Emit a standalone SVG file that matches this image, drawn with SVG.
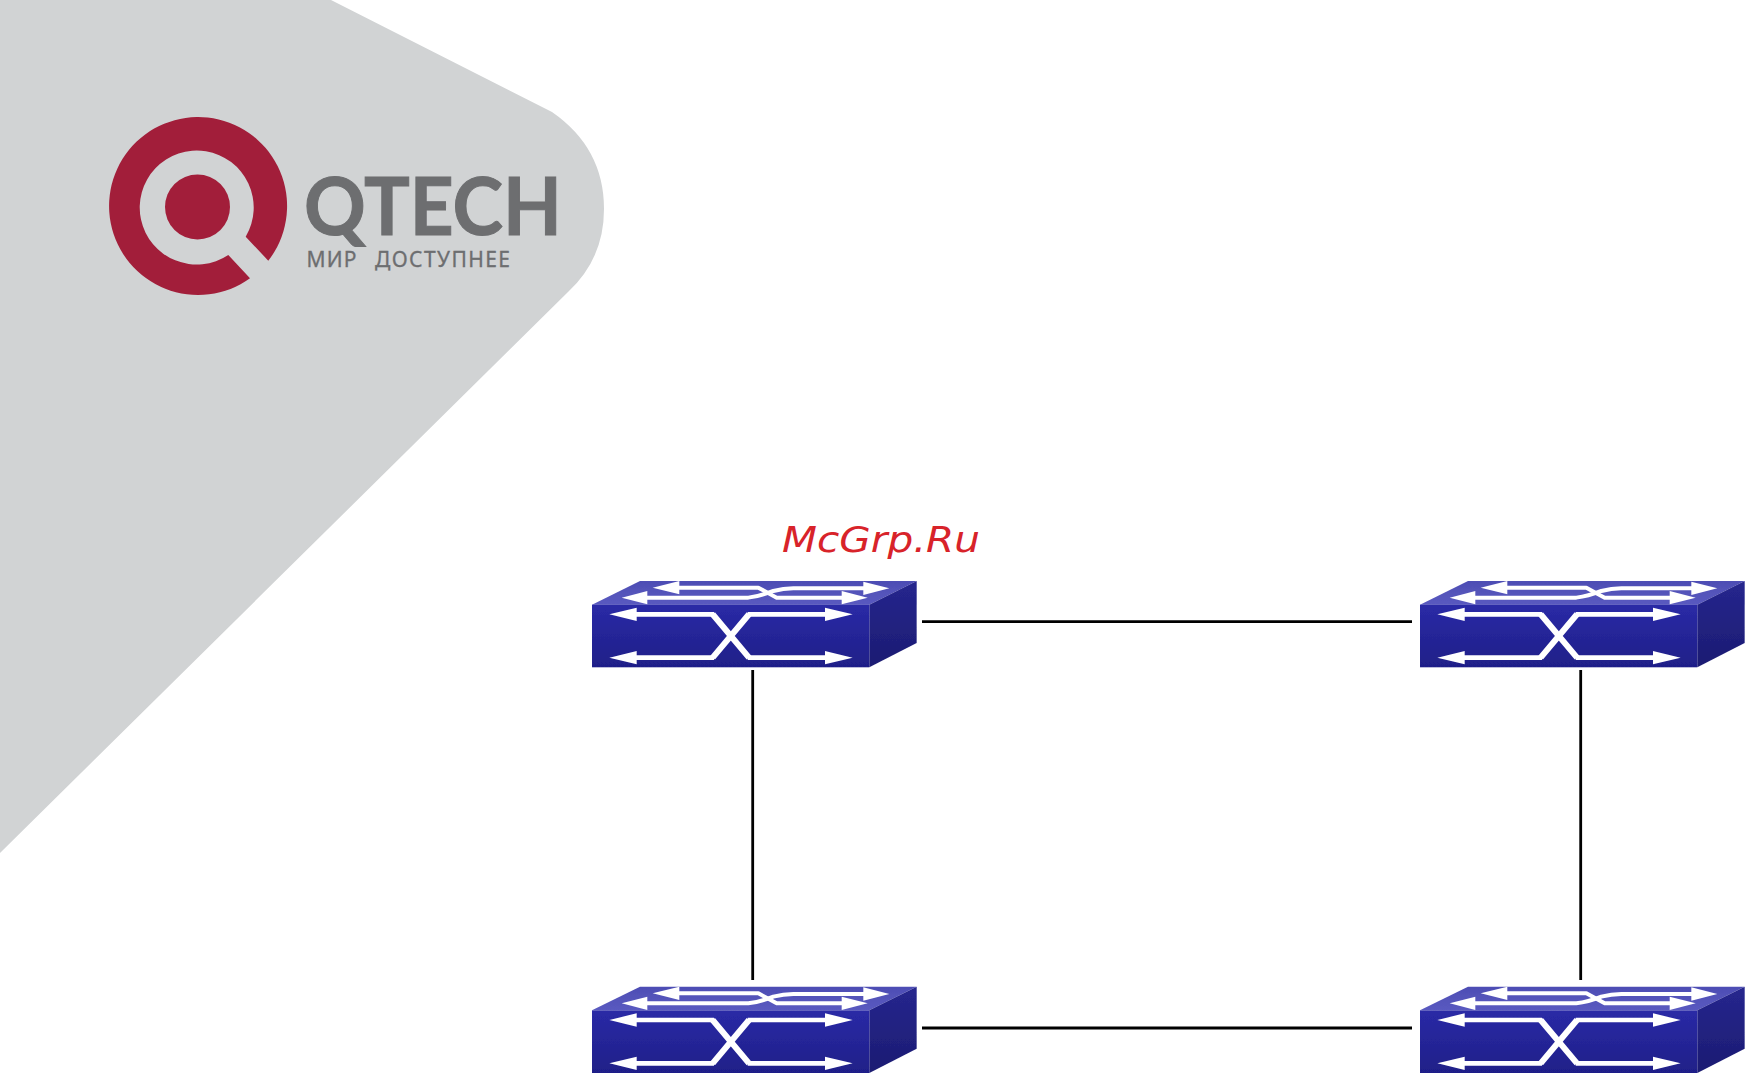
<svg xmlns="http://www.w3.org/2000/svg" xmlns:xlink="http://www.w3.org/1999/xlink" width="1751" height="1077" viewBox="0 0 1751 1077">
<style>
.wire{stroke:#000;stroke-width:2.8;fill:none}
.fl{fill:none;stroke:#fff;stroke-width:14;stroke-linejoin:round}
.dg{fill:none;stroke:#fff;stroke-width:18;stroke-linejoin:round}
.tl{fill:none;stroke:#fff;stroke-width:12;stroke-linejoin:round}
.ah{fill:#fff}
.logo{fill:#a21e3a}
.lt{fill:#6d6e70}
</style>
<defs>
<filter id="soft" x="-5%" y="-5%" width="110%" height="110%"><feGaussianBlur stdDeviation="1.4"/></filter>
<linearGradient id="front" x1="0" y1="0" x2="0" y2="1"><stop offset="0" stop-color="#2a2aa6"/><stop offset="1" stop-color="#1f1f88"/></linearGradient>
<linearGradient id="side" x1="0" y1="0" x2="0" y2="1"><stop offset="0" stop-color="#26268e"/><stop offset="1" stop-color="#1c1c72"/></linearGradient>
<linearGradient id="top" x1="0" y1="0" x2="0" y2="1"><stop offset="0" stop-color="#4d4db4"/><stop offset="1" stop-color="#5a5ac0"/></linearGradient>
<g id="sw" transform="scale(.33333)" filter="url(#soft)">
<polygon points="66,133 210,62 1040,62 898,133" fill="url(#top)"/>
<polygon points="898,133 1040,62 1040,248 898,321" fill="url(#side)"/>
<rect x="66" y="133" width="832" height="188" fill="url(#front)"/>
<path class="tl" d="M320,82H565L620,112H825"/>
<path class="tl" d="M225,112H535Q570,108 610,92Q640,84 670,84H890"/>
<polygon class="ah" points="248,82 328,62 328,102"/>
<polygon class="ah" points="155,112 232,92 232,132"/>
<polygon class="ah" points="958,84 880,64 880,104"/>
<polygon class="ah" points="893,112 815,92 815,132"/>
<path class="fl" d="M190,162H432M533,292H775M190,292H432M533,162H775"/>
<path class="dg" d="M428,162L537,292M428,292L537,162"/>
<polygon class="ah" points="118,162 200,142 200,182"/>
<polygon class="ah" points="118,292 200,272 200,312"/>
<polygon class="ah" points="848,162 765,142 765,182"/>
<polygon class="ah" points="848,292 765,272 765,312"/>
</g>
</defs>
<rect width="1751" height="1077" fill="#fff"/>
<g id="banner"><path d="M0,0H331L552,112Q604,148 604,209Q604,258 569,291L0,853Z" fill="#d1d3d4"/></g>
<g id="logo">
<path class="logo" d="M268.3,260.7A89,89 0 1 0 250,278.3L228.3,255A57,57 0 1 1 245.7,236.7Z"/>
<circle class="logo" cx="197.5" cy="207" r="32.5"/>
<text class="lt" x="304" y="235" font-family="Lato,'Liberation Sans',sans-serif" font-weight="700" font-size="80" stroke="#6d6e70" stroke-width="1" textLength="258" lengthAdjust="spacingAndGlyphs">QTECH</text>
<text class="lt" x="306.5" y="266.7" font-family="'Noto Sans','DejaVu Sans',sans-serif" font-size="21" stroke="#6d6e70" stroke-width=".3" textLength="50" lengthAdjust="spacing">МИР</text>
<text class="lt" x="375" y="266.7" font-family="'Noto Sans','DejaVu Sans',sans-serif" font-size="21" stroke="#6d6e70" stroke-width=".3" textLength="135" lengthAdjust="spacing">ДОСТУПНЕЕ</text>
</g>
<g id="watermark"><text x="782" y="552" font-family="'DejaVu Sans',sans-serif" font-style="italic" font-size="36" fill="#d8232a" textLength="198" lengthAdjust="spacingAndGlyphs">McGrp.Ru</text></g>
<g id="connectors">
<line class="wire" x1="922" y1="621.7" x2="1412" y2="621.7"/>
<line class="wire" x1="922" y1="1028" x2="1412" y2="1028"/>
<line class="wire" x1="752.7" y1="670" x2="752.7" y2="980"/>
<line class="wire" x1="1580.7" y1="670" x2="1580.7" y2="980"/>
</g>
<g id="switch-top-left"><use href="#sw" xlink:href="#sw" transform="translate(570,560.3)"/></g>
<g id="switch-top-right"><use href="#sw" xlink:href="#sw" transform="translate(1398,560.3)"/></g>
<g id="switch-bottom-left"><use href="#sw" xlink:href="#sw" transform="translate(570,966)"/></g>
<g id="switch-bottom-right"><use href="#sw" xlink:href="#sw" transform="translate(1398,966)"/></g>
</svg>
